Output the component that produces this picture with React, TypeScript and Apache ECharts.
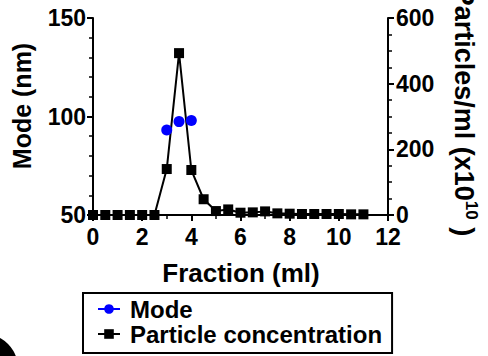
import React, { useEffect, useRef } from "react";
import * as echarts from "echarts";

const fractions = [0, 0.5, 1, 1.5, 2, 2.5, 3, 3.5, 4, 4.5, 5, 5.5, 6, 6.5, 7, 7.5, 8, 8.5, 9, 9.5, 10, 10.5, 11];
const particles = [0, 0, 0, 0, 0, 0, 140, 493, 137, 48, 12, 17, 7, 8, 11, 5, 4, 3, 3, 3, 3, 2, 2];
const modeFractions = [3, 3.5, 4];
const modeValues = [93.2, 97.4, 98];
const xTicks = { min: 0, max: 12, interval: 2 };
const leftTicks = { min: 50, max: 150, interval: 50 };
const rightTicks = { min: 0, max: 600, interval: 200 };

const FONT = "'Liberation Sans', Arial, Helvetica, sans-serif";

export default function App() {
  const ref = useRef<HTMLDivElement>(null);
  useEffect(() => {
    if (!ref.current) return;
    const chart = echarts.init(ref.current, undefined, { renderer: "svg" });
    const axisCommon = {
      axisLine: { show: true, lineStyle: { color: "#000", width: 2 } },
      axisTick: { show: true, inside: false, length: 6, lineStyle: { color: "#000", width: 2 } },
      minorTick: { show: true, length: 4, lineStyle: { color: "#000", width: 1.5 } },
      splitLine: { show: false },
      axisLabel: { color: "#000", fontFamily: FONT, fontWeight: "bold", fontSize: 23 },
    };
    chart.setOption({
      animation: false,
      backgroundColor: "#fff",
      grid: { left: 93, right: 100, top: 18, bottom: 141, containLabel: false },
      xAxis: {
        type: "value",
        ...xTicks,
        ...axisCommon,
        minorTick: { ...axisCommon.minorTick, splitNumber: 2 },
        axisLabel: { ...axisCommon.axisLabel, margin: 10 },
      },
      yAxis: [
        {
          type: "value",
          position: "left",
          ...leftTicks,
          ...axisCommon,
          minorTick: { ...axisCommon.minorTick, splitNumber: 5 },
          axisLabel: { ...axisCommon.axisLabel, margin: 7 },
        },
        {
          type: "value",
          position: "right",
          ...rightTicks,
          ...axisCommon,
          minorTick: { ...axisCommon.minorTick, splitNumber: 4 },
          axisLabel: { ...axisCommon.axisLabel, margin: 8 },
        },
      ],
      legend: {
        orient: "vertical",
        left: 83,
        top: 293,
        borderColor: "#000",
        borderWidth: 2,
        padding: [4, 10, 7, 14],
        itemGap: 1,
        itemWidth: 22,
        itemHeight: 12,
        textStyle: {
          color: "#000",
          fontFamily: FONT,
          fontWeight: "bold",
          fontSize: 24,
          padding: [0, 0, 0, 5],
        },
        data: [
          { name: "Mode", lineStyle: { width: 2, color: "#0000ff", opacity: 1 } },
          { name: "Particle concentration" },
        ],
      },
      series: [
        {
          name: "Particle concentration",
          type: "line",
          yAxisIndex: 1,
          data: fractions.map((f, i) => [f, particles[i]]),
          symbol: "rect",
          symbolSize: 10,
          itemStyle: { color: "#000" },
          lineStyle: { color: "#000", width: 2 },
          z: 2,
        },
        {
          name: "Mode",
          type: "line",
          yAxisIndex: 0,
          data: modeFractions.map((f, i) => [f, modeValues[i]]),
          symbol: "circle",
          symbolSize: 11,
          itemStyle: { color: "#0000ff" },
          lineStyle: { width: 0, opacity: 0, color: "#0000ff" },
          z: 3,
        },
      ],
      graphic: [
        {
          type: "text",
          x: 22,
          y: 106,
          rotation: Math.PI / 2,
          style: {
            text: "Mode (nm)",
            font: `bold 25px ${FONT}`,
            fill: "#000",
            align: "center",
            verticalAlign: "middle",
          },
        },
        {
          type: "text",
          x: 241,
          y: 273,
          style: {
            text: "Fraction (ml)",
            font: `bold 26px ${FONT}`,
            fill: "#000",
            align: "center",
            verticalAlign: "middle",
          },
        },
        {
          type: "text",
          x: 465,
          y: 112,
          rotation: -Math.PI / 2,
          style: {
            text: "{a|Particles/ml (x10}{s|10}{a| )}",
            fill: "#000",
            align: "center",
            verticalAlign: "middle",
            rich: {
              a: { fontFamily: FONT, fontWeight: "bold", fontSize: 27, fill: "#000", lineHeight: 30, verticalAlign: "bottom" },
              s: { fontFamily: FONT, fontWeight: "bold", fontSize: 17, fill: "#000", lineHeight: 30, verticalAlign: "top" },
            },
          },
        },
        {
          type: "circle",
          shape: { cx: -16, cy: 368, r: 34 },
          style: { fill: "#000" },
        },
      ],
    });
    return () => chart.dispose();
  }, []);
  return (
    <div
      ref={ref}
      style={{ position: "fixed", left: 0, top: 0, width: 488, height: 356, background: "#fff" }}
    />
  );
}
